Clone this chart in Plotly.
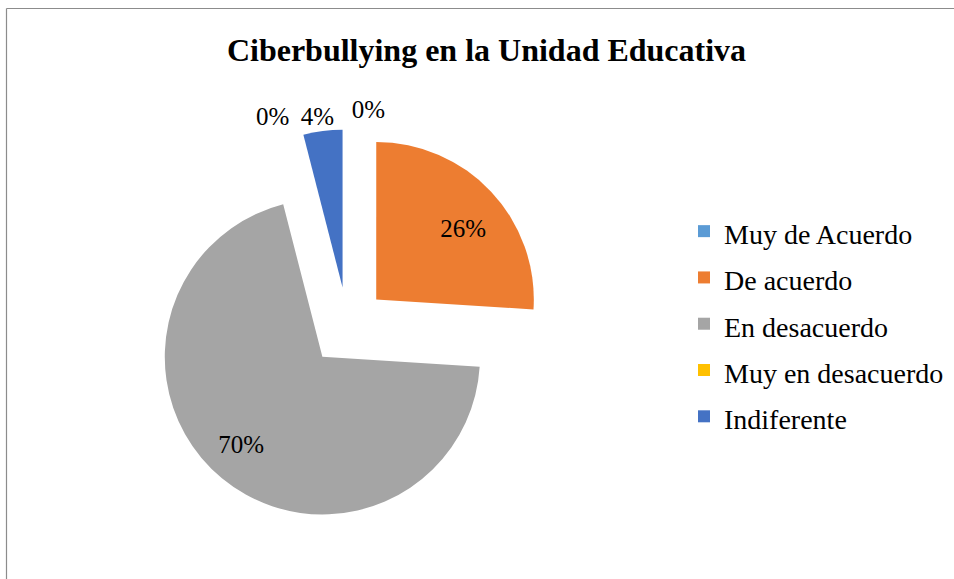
import plotly.graph_objects as go

labels = ["Muy de Acuerdo", "De acuerdo", "En desacuerdo", "Muy en desacuerdo", "Indiferente"]
values = [0, 26, 70, 0, 4]
colors = ["#5B9BD5", "#ED7D31", "#A5A5A5", "#FFC000", "#4472C4"]
title_text = "Ciberbullying en la Unidad Educativa"

W, H = 954, 579
SERIF = "Liberation Serif, Times New Roman, serif"

legend_labels = ['<span style="font-size:28px">%s</span>' % l for l in labels]
pct_text = ["%d%%" % v for v in values]

# pie center / half-size of the domain, in pixels
CX, CY, HALF = 347.5, 326.5, 197


def domain(dx=0.0, dy=0.0):
    x0 = max(0.0, (CX + dx - HALF) / W)
    x1 = min(1.0, (CX + dx + HALF) / W)
    y0 = max(0.0, 1 - (CY + dy + HALF) / H)
    y1 = min(1.0, 1 - (CY + dy - HALF) / H)
    return dict(x=[x0, x1], y=[y0, y1])


common = dict(
    values=values,
    sort=False,
    direction="clockwise",
    rotation=0,
    pull=[0.25] * len(values),
    textfont=dict(family=SERIF, size=25, color="#000000"),
    insidetextorientation="horizontal",
    textinfo="text",
)

fig = go.Figure()
# the pie itself
fig.add_trace(go.Pie(
    labels=legend_labels,
    marker=dict(colors=colors, line=dict(width=0)),
    text=[""] * len(values),
    textposition="none",
    showlegend=True,
    hoverinfo="label+percent",
    domain=domain(),
    **common,
))

# percentage labels: transparent copies of the same pie, each showing some of the
# labels, nudged to where the reference (Excel-style) places them
label_groups = [
    (["De acuerdo"], "inside", 20.5, -8.5),
    (["En desacuerdo"], "inside", -31, 26.5),
    (["Muy de Acuerdo", "Muy en desacuerdo"], "outside", -2.5, -7),
    (["Indiferente"], "outside", 18, -1.5),
]
for names, pos, dx, dy in label_groups:
    fig.add_trace(go.Pie(
        labels=labels,
        marker=dict(colors=["rgba(0,0,0,0)"] * len(values), line=dict(width=0)),
        text=[t if l in names else "" for t, l in zip(pct_text, labels)],
        textposition=pos,
        showlegend=False,
        hoverinfo="skip",
        domain=domain(dx, dy),
        **common,
    ))

fig.update_layout(
    width=W, height=H,
    margin=dict(l=0, r=0, t=0, b=0, autoexpand=False),
    paper_bgcolor="white",
    plot_bgcolor="white",
    title=dict(text="<b>" + title_text + "</b>", x=486.5 / W, xanchor="center",
               y=1 - 50 / H, yanchor="middle",
               font=dict(family=SERIF, size=32, color="#000000")),
    legend=dict(x=684 / W, xanchor="left", y=1 - 324 / H, yanchor="middle",
                font=dict(family=SERIF, size=33.3, color="#000000"),
                itemwidth=30, bgcolor="rgba(0,0,0,0)", traceorder="normal"),
    shapes=[
        dict(type="line", xref="paper", yref="paper", x0=6.5 / W, x1=1, y0=1 - 8.5 / H, y1=1 - 8.5 / H,
             line=dict(color="#8C8C8C", width=1.2), layer="below"),
        dict(type="line", xref="paper", yref="paper", x0=6.5 / W, x1=6.5 / W, y0=0, y1=1 - 8.5 / H,
             line=dict(color="#8C8C8C", width=1.2), layer="below"),
    ],
)

fig.write_html("out.html", config={"displayModeBar": False},
               post_script="document.body.style.margin='0';document.body.style.overflow='hidden';")
